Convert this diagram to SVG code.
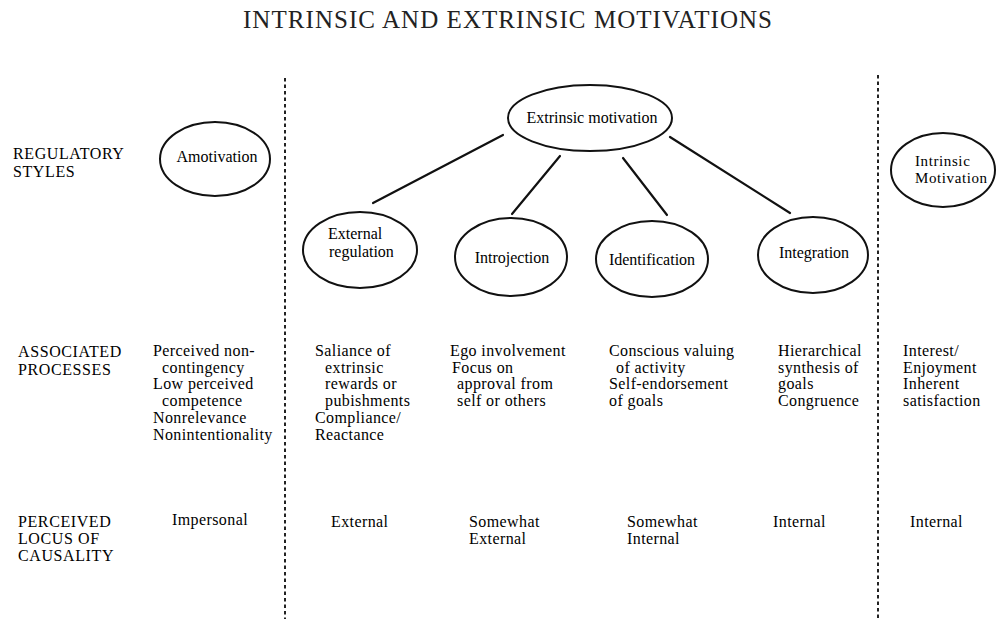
<svg xmlns="http://www.w3.org/2000/svg" width="996" height="619" viewBox="0 0 996 619">
<style>
text{font-family:"Liberation Serif","Times New Roman",serif;font-size:16px;fill:#000}
.title{font-size:25px;fill:#222}
.b{font-size:15px;letter-spacing:0.4px}
.h{font-size:15px;letter-spacing:0.6px}
.node ellipse{fill:none;stroke:#111;stroke-width:2}
.conn line{stroke:#111;stroke-width:2.2;stroke-linecap:round}
.div{stroke:#222;stroke-width:2;stroke-dasharray:3.5 3}
.c{text-anchor:middle}
</style>
<rect width="996" height="619" fill="#fff"/>
<text class="title" x="243" y="28" textLength="529" lengthAdjust="spacing">INTRINSIC AND EXTRINSIC MOTIVATIONS</text>

<g id="dividers">
<line class="div" x1="285" y1="78" x2="285" y2="619"/>
<line class="div" x1="878" y1="75" x2="878" y2="619"/>
</g>

<g id="row-headers" class="h">
<text x="13" y="159">REGULATORY<tspan x="13" y="177">STYLES</tspan></text>
<text x="18" y="357">ASSOCIATED<tspan x="18" y="375">PROCESSES</tspan></text>
<text x="18" y="527">PERCEIVED<tspan x="18" y="544">LOCUS OF</tspan><tspan x="18" y="561">CAUSALITY</tspan></text>
</g>

<g id="connectors" class="conn">
<line x1="503" y1="135" x2="373" y2="203"/>
<line x1="560" y1="156" x2="512" y2="214"/>
<line x1="623" y1="158" x2="667" y2="215"/>
<line x1="670" y1="137" x2="790" y2="213"/>
</g>

<g id="amotivation" class="node">
<ellipse cx="215" cy="159" rx="55" ry="37"/>
<text class="c" x="217" y="162">Amotivation</text>
</g>
<g id="extrinsic-motivation" class="node">
<ellipse cx="590" cy="118" rx="82" ry="33"/>
<text class="c" x="592" y="123">Extrinsic motivation</text>
</g>
<g id="intrinsic-motivation" class="node">
<ellipse cx="943" cy="170" rx="52" ry="37"/>
<text class="b" x="915" y="166" style="letter-spacing:0.6px">Intrinsic<tspan x="915" y="183">Motivation</tspan></text>
</g>
<g id="external-regulation" class="node">
<ellipse cx="360" cy="250" rx="57" ry="38"/>
<text x="328" y="239">External<tspan x="329" y="257">regulation</tspan></text>
</g>
<g id="introjection" class="node">
<ellipse cx="511" cy="257" rx="56" ry="39"/>
<text class="c" x="512" y="263">Introjection</text>
</g>
<g id="identification" class="node">
<ellipse cx="652" cy="259" rx="56" ry="38"/>
<text class="c" x="652" y="265">Identification</text>
</g>
<g id="integration" class="node">
<ellipse cx="813" cy="255" rx="55" ry="38"/>
<text class="c" x="814" y="258">Integration</text>
</g>

<g id="processes" class="b">
<text x="153" y="356">Perceived non-<tspan x="162" y="372.7">contingency</tspan><tspan x="153" y="389.4">Low perceived</tspan><tspan x="162" y="406.1">competence</tspan><tspan x="153" y="422.8">Nonrelevance</tspan><tspan x="153" y="439.5">Nonintentionality</tspan></text>

<text x="315" y="356">Saliance of<tspan x="325" y="372.7">extrinsic</tspan><tspan x="325" y="389.4">rewards or</tspan><tspan x="325" y="406.1">pubishments</tspan><tspan x="315" y="422.8">Compliance/</tspan><tspan x="315" y="439.5">Reactance</tspan></text>

<text x="450" y="356">Ego involvement<tspan x="452" y="372.7">Focus on</tspan><tspan x="457" y="389.4">approval from</tspan><tspan x="457" y="406.1">self or others</tspan></text>

<text x="609" y="356">Conscious valuing<tspan x="616" y="372.7">of activity</tspan><tspan x="609" y="389.4">Self-endorsement</tspan><tspan x="609" y="406.1">of goals</tspan></text>

<text x="778" y="356">Hierarchical<tspan x="778" y="372.7">synthesis of</tspan><tspan x="778" y="389.4">goals</tspan><tspan x="778" y="406.1">Congruence</tspan></text>

<text x="903" y="356">Interest/<tspan x="903" y="372.7">Enjoyment</tspan><tspan x="903" y="389.4">Inherent</tspan><tspan x="903" y="406.1">satisfaction</tspan></text>
</g>

<g id="locus" class="b">
<text x="172" y="525">Impersonal</text>
<text x="331" y="527">External</text>
<text x="469" y="527">Somewhat<tspan x="469" y="544">External</tspan></text>
<text x="627" y="527">Somewhat<tspan x="627" y="544">Internal</tspan></text>
<text x="773" y="527">Internal</text>
<text x="910" y="527">Internal</text>
</g>
</svg>
